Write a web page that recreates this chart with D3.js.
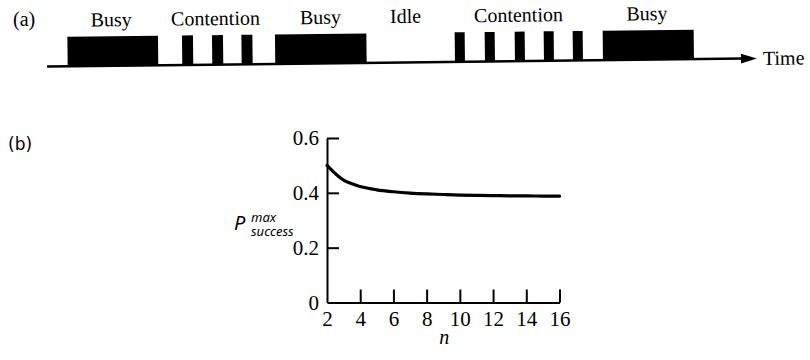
<!DOCTYPE html>
<html>
<head>
<meta charset="utf-8">
<script src="https://cdn.jsdelivr.net/npm/d3@7"></script>
<style>
  html, body { margin: 0; padding: 0; background: #fff; }
  svg { display: block; }
  .serif { font-family: "Liberation Serif", "Times New Roman", serif; fill: #000; }
  .sans  { font-family: "DejaVu Sans", "Noto Sans", sans-serif; fill: #000; }
  .tick text { font-family: "Liberation Serif", "Times New Roman", serif; font-size: 21px; fill: #000; }
</style>
</head>
<body>
<svg id="fig" width="810" height="360"></svg>
<script>
// ---- (a) channel activity along the time line (time units) ----
const segKinds  = ["busy", "slot", "slot", "slot", "busy", "slot", "slot", "slot", "slot", "slot", "busy"];
const segStart  = [2.07, 13.53, 16.53, 19.47, 22.83, 40.8, 43.8, 46.8, 49.7, 52.6, 55.6];
const segEnd    = [11.13, 14.63, 17.63, 20.57, 31.97, 41.8, 44.8, 47.8, 50.7, 53.6, 64.7];
const phaseNames = ["Busy", "Contention", "Busy", "Idle", "Contention", "Busy"];
const phaseAt    = [6.47, 16.9, 27.4, 35.9, 47.2, 60.05];
const timeEnd = 71;

// ---- (b) maximum success probability vs number of stations ----
const nValues = [2, 3, 4, 5, 6, 7, 8, 9, 10, 11, 12, 13, 14, 15, 16];
const pMax    = [0.500, 0.446, 0.423, 0.411, 0.404, 0.399, 0.396, 0.394, 0.392, 0.391, 0.390, 0.389, 0.389, 0.388, 0.388];
const xTicks  = [2, 4, 6, 8, 10, 12, 14, 16];
const yTicks  = [0, 0.2, 0.4, 0.6];

const svg = d3.select("#fig");

// ================= (a) =================
svg.append("text").attr("class", "serif")
  .attr("x", 13).attr("y", 26).style("font-size", "20px").text("(a)");

const baseX = 47, baseY = 66.5, blockH = 29.5;
const t = d3.scaleLinear().domain([0, timeEnd]).range([baseX, baseX + 710]);

const ga = svg.append("g").attr("transform", `rotate(-0.65, ${baseX}, ${baseY})`);

// time line with arrow
ga.append("line")
  .attr("x1", t(0)).attr("x2", t(timeEnd) - 14)
  .attr("y1", baseY).attr("y2", baseY)
  .attr("stroke", "#000").attr("stroke-width", 2.5);
ga.append("path")
  .attr("d", d3.line()([[t(timeEnd) - 16, baseY - 4.8], [t(timeEnd), baseY], [t(timeEnd) - 16, baseY + 4.8]]) + "Z")
  .attr("fill", "#000");

ga.selectAll("rect.seg")
  .data(segKinds.map((k, i) => ({ k, s: segStart[i], e: segEnd[i] })))
  .join("rect").attr("class", "seg")
  .attr("x", d => t(d.s)).attr("width", d => t(d.e) - t(d.s))
  .attr("y", baseY - blockH).attr("height", blockH)
  .attr("fill", "#000");

ga.selectAll("text.phase")
  .data(phaseNames.map((p, i) => ({ p, at: phaseAt[i] })))
  .join("text").attr("class", "phase serif")
  .attr("x", d => t(d.at)).attr("y", baseY - 39.5)
  .attr("text-anchor", "middle").style("font-size", "20px")
  .text(d => d.p);

ga.append("text").attr("class", "serif")
  .attr("x", t(timeEnd) + 6).attr("y", baseY + 6.5)
  .style("font-size", "20px").text("Time");

// ================= (b) =================
svg.append("text").attr("class", "sans")
  .attr("x", 8).attr("y", 150).style("font-size", "17px").text("(b)");

const x = d3.scaleLinear().domain([2, 16]).range([327, 559.5]);
const y = d3.scaleLinear().domain([0, 0.6]).range([302.5, 138]);

const fmtY = d => d === 0 ? "0" : d3.format(".1f")(d);

const yAxis = svg.append("g").attr("transform", `translate(${x(2)},0)`)
  .call(d3.axisLeft(y).tickValues(yTicks).tickFormat(fmtY)
    .tickSizeInner(-12).tickSizeOuter(0).tickPadding(8));
yAxis.selectAll(".tick line").filter(d => d === 0).remove();

const xAxis = svg.append("g").attr("transform", `translate(0,${y(0)})`)
  .call(d3.axisBottom(x).tickValues(xTicks).tickFormat(d3.format("d"))
    .tickSizeInner(-13).tickSizeOuter(0).tickPadding(9));
xAxis.selectAll(".tick line").filter(d => d === 2).remove();

[yAxis, xAxis].forEach(g => {
  g.attr("font-family", null).attr("font-size", null);
  g.select(".domain").attr("stroke", "#000").attr("stroke-width", 2);
  g.selectAll(".tick line").attr("stroke", "#000").attr("stroke-width", 2);
});

// curve
svg.append("path")
  .datum(nValues.map((n, i) => [n, pMax[i]]))
  .attr("fill", "none").attr("stroke", "#000").attr("stroke-width", 3.2)
  .attr("stroke-linecap", "round")
  .attr("d", d3.line().x(d => x(d[0])).y(d => y(d[1])).curve(d3.curveCatmullRom.alpha(0.5)));

// axis titles
svg.append("text").attr("class", "serif")
  .attr("x", (x(2) + x(16)) / 2 + 1).attr("y", 344)
  .attr("text-anchor", "middle").style("font-size", "20px").style("font-style", "italic")
  .text("n");

const yl = svg.append("g")
  .style("font-family", '"Noto Sans", "DejaVu Sans", sans-serif')
  .style("font-style", "italic").attr("fill", "#000");
yl.append("text").attr("x", 234).attr("y", 230).style("font-size", "20px").text("P");
yl.append("text").attr("x", 251).attr("y", 222).style("font-size", "13px").text("max");
yl.append("text").attr("x", 251).attr("y", 236).style("font-size", "13px").text("success");
</script>
</body>
</html>
